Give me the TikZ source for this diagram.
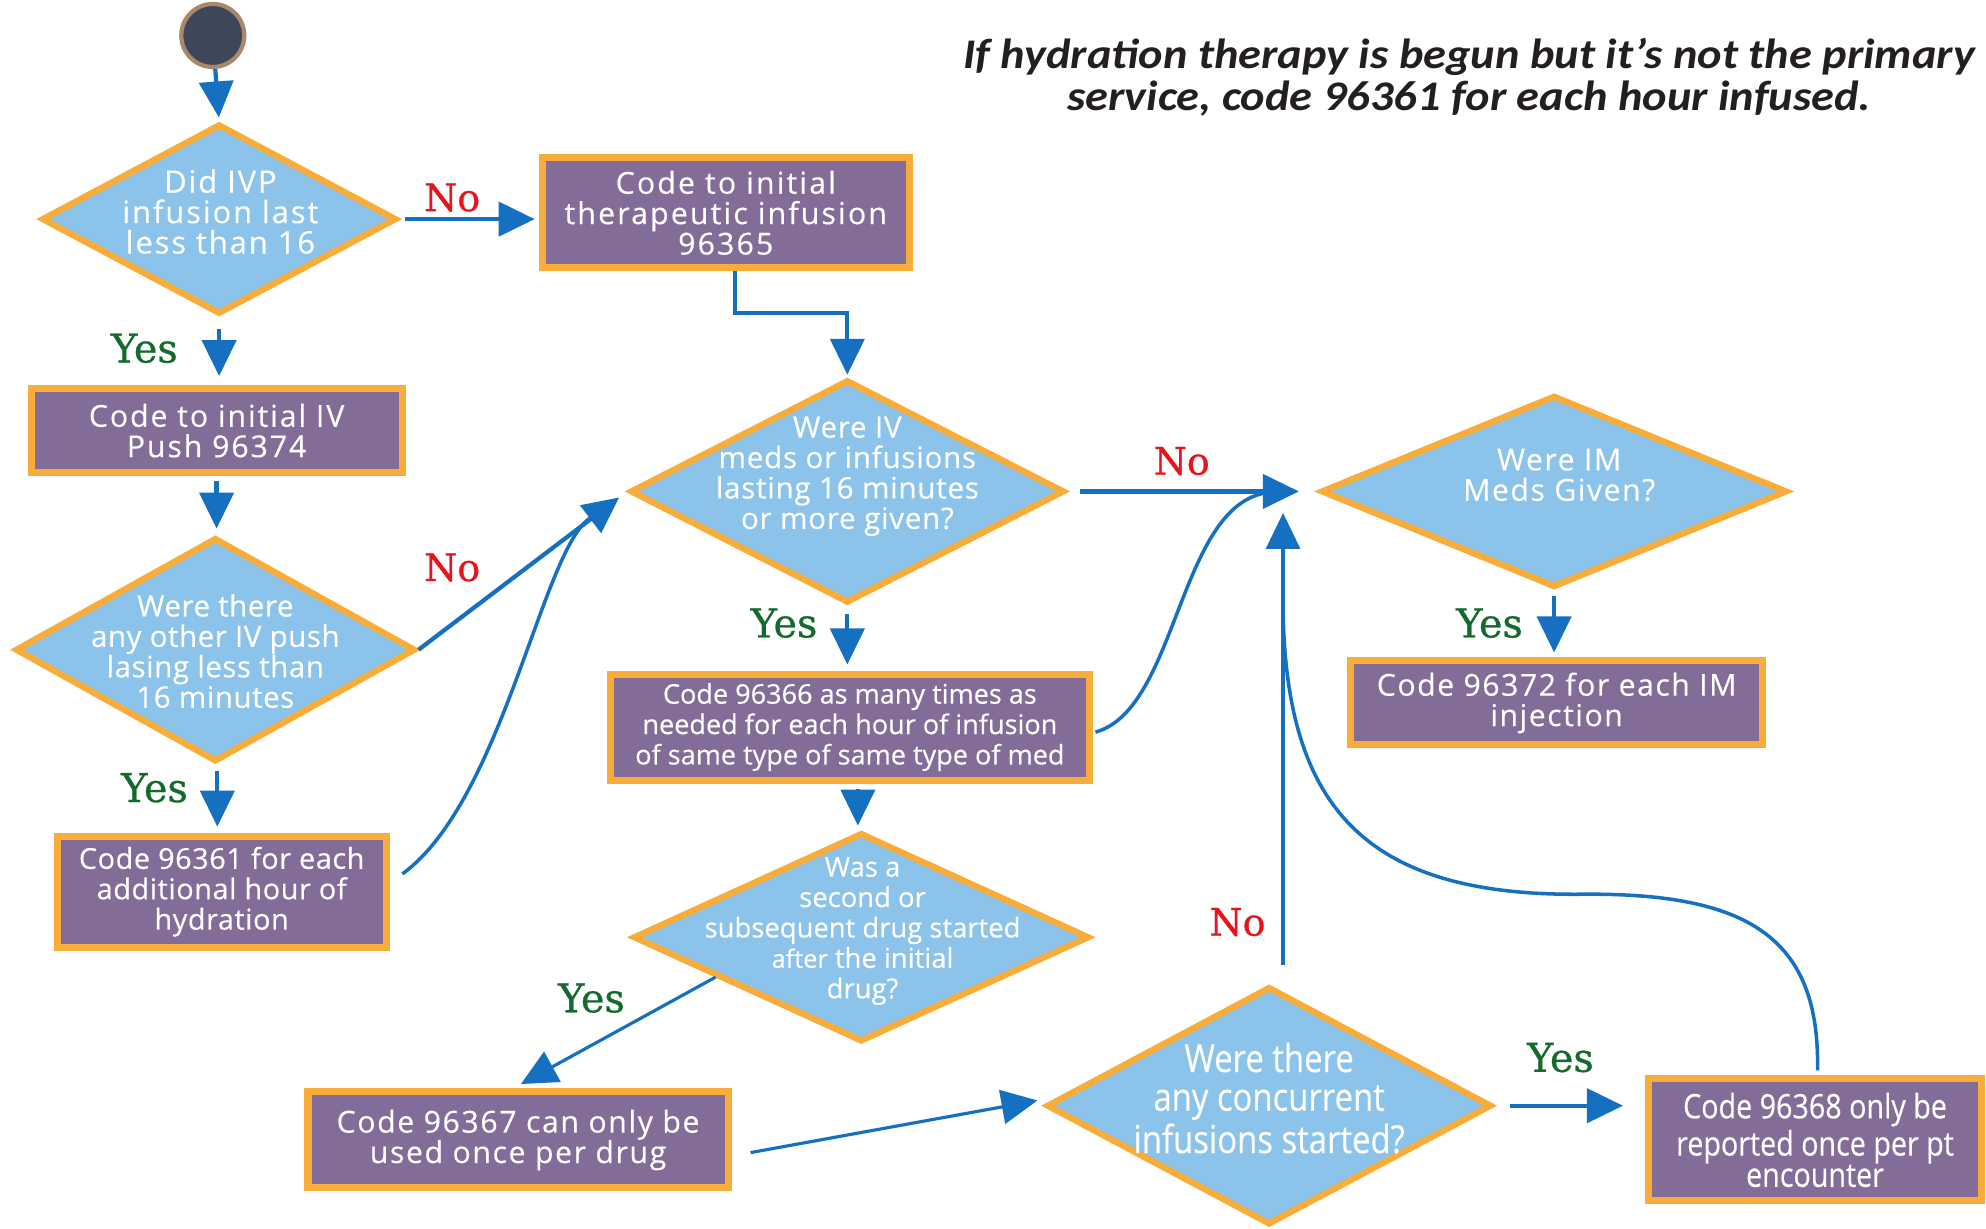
\documentclass[tikz,border=0pt]{standalone}
\usepackage{fontspec}
\setmainfont{Open Sans}
\newfontfamily\boxfont[FakeBold=0.35]{Open Sans}
\newfontfamily\titlefont[FakeStretch=1.1]{Carlito}
\newfontfamily\ynfont[FakeBold=0.7]{DejaVu Serif}
\newfontfamily\condfont[FakeStretch=0.85,FakeBold=0.35]{Open Sans}
\usetikzlibrary{shapes.geometric,arrows.meta,calc}
\definecolor{diafill}{HTML}{8CC3EA}
\definecolor{boxfill}{HTML}{836C98}
\definecolor{orbord}{HTML}{F8AD3A}
\definecolor{arrblue}{HTML}{1670C2}
\definecolor{nored}{HTML}{E8131B}
\definecolor{yesgreen}{HTML}{146A2D}
\definecolor{startfill}{HTML}{3E4759}
\definecolor{startbord}{HTML}{A88A6B}
\definecolor{titlecol}{HTML}{231F20}
\begin{document}
\begin{tikzpicture}[x=0.012666cm,y=-0.012666cm,
  fs/.style 2 args={font=\boxfont\fontsize{#1}{8.65}\selectfont\addfontfeature{LetterSpace=#2}},
  cfs/.style 2 args={font=\condfont\fontsize{#1}{#2}\selectfont},
  boxn/.style={rectangle, draw=orbord, fill=boxfill, line width=2pt, text=white, align=center, inner sep=0pt},
  dian/.style={diamond, draw=orbord, fill=diafill, line width=1.8pt, inner sep=0pt},
  dtext/.style={text=white, align=center, inner sep=0pt},
  arr/.style={draw=arrblue, line width=1.2pt, -{Triangle[length=0.36cm,width=0.34cm]}},
  arrthin/.style={draw=arrblue, line width=0.9pt, -{Triangle[length=0.36cm,width=0.34cm]}},
  curve/.style={draw=arrblue, line width=1pt},
  nolab/.style={text=nored, inner sep=0pt, font=\ynfont\fontsize{10.8}{12}\selectfont},
  yeslab/.style={text=yesgreen, inner sep=0pt, font=\ynfont\fontsize{11.3}{12}\selectfont},
  titlen/.style={text=titlecol, align=center, inner sep=0pt, font=\titlefont\bfseries\itshape\fontsize{12}{11.9}\selectfont}
]
\fill[white] (0,0) rectangle (1568,970);
\useasboundingbox (0,0) rectangle (1568,970);

% title
\node[titlen] (title) at (1160,61) {If hydration therapy is begun but it’s not the primary\\service, code 96361 for each hour infused.};

% start
\node[circle, fill=startfill, draw=startbord, line width=1.2pt, minimum size=0.63cm, inner sep=0pt] (start) at (168,28) {};

% diamonds
\node[dian, minimum width=3.55cm, minimum height=1.90cm] (d1) at (173,173) {};
\node[dtext, fs={8.8}{6.1}] (d1t) at (174,167) {Did IVP\\infusion last\\less than 16};

\node[dian, minimum width=4.00cm, minimum height=2.24cm] (d3) at (170,513) {};
\node[dtext, fs={8.4}{1.8}] (d3t) at (170,514) {Were there\\any other IV push\\lasing less than\\16 minutes};

\node[dian, minimum width=4.34cm, minimum height=2.23cm] (d2) at (669,388) {};
\node[dtext, fs={8.4}{2.6}] (d2t) at (669,376) {Were IV\\meds or infusions\\lasting 16 minutes\\or more given?};

\node[dian, minimum width=4.66cm, minimum height=1.92cm] (d4) at (1227,388) {};
\node[dtext, fs={8.6}{5}] (d4t) at (1231,375) {Were IM\\Meds Given?};

\node[dian, minimum width=4.56cm, minimum height=2.09cm] (d5) at (680,740) {};
\node[dtext, fs={7.8}{0}] (d5t) at (681,735) {Was a\\second or\\subsequent drug started\\{\fontsize{7.2}{8.65}\selectfont after} the initial\\drug?};

\node[dian, minimum width=4.45cm, minimum height=2.38cm] (d6) at (1002,873) {};
\node[dtext, cfs={11}{11}] (d6t) at (1002,867) {Were there\\any concurrent\\infusions started?};

% boxes
\node[boxn, fs={8.6}{7.2}, minimum width=3.67cm, minimum height=1.10cm] (b1) at (573,168) {Code to initial\\therapeutic infusion\\96365};
\node[boxn, fs={8.6}{6.4}, minimum width=3.71cm, minimum height=0.84cm] (b2) at (171,340) {Code to initial IV\\Push 96374};
\node[boxn, fs={8.2}{2}, minimum width=3.29cm, minimum height=1.11cm] (b3) at (175,704) {Code 96361 for each\\additional hour of\\hydration};
\node[boxn, fs={8.6}{5}, minimum width=4.12cm, minimum height=0.84cm] (b4) at (1229,555) {Code 96372 for each IM\\injection};
\node[boxn, fs={7.7}{0}, minimum width=4.79cm, minimum height=1.06cm] (b5) at (671,574) {Code 96366 as many times as\\needed for each hour of infusion\\of same type of same type of med};
\node[boxn, fs={8.6}{5.3}, minimum width=4.20cm, minimum height=0.96cm] (b6) at (409,900) {Code 96367 can only be\\used once per drug};
\node[boxn, cfs={9.6}{8.9}, minimum width=3.33cm, minimum height=1.22cm] (b7) at (1433,900) {Code 96368 only be\\reported once per pt\\encounter};

% junction coordinates
\coordinate (j1) at (470,407);
\coordinate (jn) at (1000,389);
\coordinate (jv) at (1013,405);
\coordinate (jm) at (1013,480);

% connectors
\draw[arr, shorten >=1pt] (start) -- (d1.north);
\draw[arr, shorten <=0.05cm, shorten >=0.04cm] (d1.east) -- (d1.east -| b1.west);
\draw[arr, shorten >=0.02cm] ([xshift=0.09cm]b1.south) -- ++(0,33) -| (d2.north);
\draw[arr, shorten <=0.12cm, shorten >=0.09cm] (d1.south) -- (d1.south |- b2.north);
\draw[arr, shorten <=0.05cm, shorten >=0.06cm] (b2.south) -- (b2.south |- d3.north);
\draw[arr, shorten <=0.06cm, shorten >=0.06cm] ([xshift=0.02cm]d3.south) -- ([xshift=0.02cm]d3.south |- b3.north);
\draw[arr, shorten >=0.1cm] (d3.east) -- (d2.west);
\draw[curve] ($(b3.east)+(10,-14)$) .. controls (400,630) and (430,420) .. (j1);
\draw[arr, shorten <=0.12cm, shorten >=0.19cm] (d2.east) -- (d4.west);
\draw[curve] ($(b5.east)+(2,4)$) .. controls (930,560) and (930,400) .. (jn);
\draw[arr, shorten <=0.08cm, shorten >=0.06cm] (d2.south) -- (d2.south |- b5.north);
\draw[arr, shorten <=0.05cm, shorten >=0.05cm] (d4.south) -- (d4.south |- b4.north);
\draw[arr, shorten <=0.05cm, shorten >=0.04cm] ([xshift=0.08cm]b5.south) -- ([xshift=0.08cm]b5.south |- d5.north);
\draw[arr, line width=0.9pt, shorten >=0.09cm] ($(d5.west)!0.37!(d5.south)$) -- ([xshift=-0.05cm]b6.north);
\draw[arrthin, shorten >=0.06cm] ($(b6.east)+(15,10)$) -- ($(d6.west)+(0,-5)$);
\draw[arrthin] ($(d6.north)+(11,-15)$) -- (jv);
\draw[curve] ($(b7.north)+(2,-4)$) .. controls (1437,740) and (1380,705) .. (1250,706) .. controls (1080,708) and (1015,640) .. (jm);
\draw[arr, shorten <=0.15cm, shorten >=0.22cm] (d6.east) -- (d6.east -| b7.west);

% labels
\node[nolab] (no1) at (357,156) {No};
\node[nolab] (no2) at (357,448) {No};
\node[nolab] (no3) at (933,364) {No};
\node[nolab] (no4) at (977,728) {No};
\node[yeslab] (y1) at (114,275) {Yes};
\node[yeslab] (y2) at (122,622) {Yes};
\node[yeslab] (y3) at (619,492) {Yes};
\node[yeslab] (y4) at (1176,492) {Yes};
\node[yeslab] (y5) at (467,788) {Yes};
\node[yeslab] (y6) at (1232,835) {Yes};
\end{tikzpicture}
\end{document}
